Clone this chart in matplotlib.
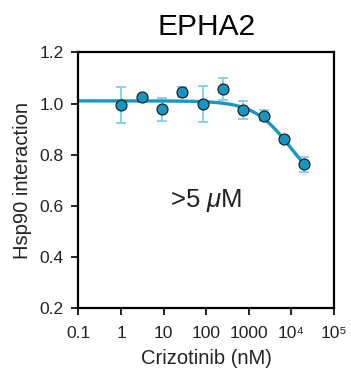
import numpy as np
import matplotlib
matplotlib.use("Agg")
import matplotlib.pyplot as plt
from matplotlib.ticker import FixedLocator, FixedFormatter, NullLocator

plt.rcParams["font.family"] = ["Liberation Sans", "DejaVu Sans"]
plt.rcParams["mathtext.fontset"] = "custom"
plt.rcParams["mathtext.rm"] = "Liberation Sans"
plt.rcParams["mathtext.it"] = "Liberation Sans:italic"
plt.rcParams.update({
    "xtick.labelsize": 12.5, "ytick.labelsize": 12.5,
    "xtick.major.size": 5, "ytick.major.size": 5,
    "xtick.major.width": 1.4, "ytick.major.width": 1.4,
    "xtick.major.pad": 7.5, "ytick.major.pad": 5.8,
    "xtick.color": "#222222", "ytick.color": "#222222",
    "axes.linewidth": 1.6,
})

# ─── data ─────────────────────────────────────────────────────────────
conc_nM = [1.02, 3.05, 9.14, 27.4, 82.3, 247, 741, 2222, 6667, 20000]
hsp90 = [0.995, 1.025, 0.979, 1.046, 1.000, 1.057, 0.975, 0.953, 0.861, 0.764]
err = [0.070, 0.008, 0.045, 0.019, 0.070, 0.043, 0.036, 0.021, 0.008, 0.029]

# 4PL fit parameters
TOP, BOTTOM, IC50, HILL = 1.011, 0.646, 9556.0, 1.0

xticks = [0.1, 1, 10, 100, 1000, 1e4, 1e5]
xticklabels = ["0.1", "1", "10", "100", "1000", "10\u2074", "10\u2075"]
yticks = [0.2, 0.4, 0.6, 0.8, 1.0, 1.2]

LINE_C = "#1796c4"
ERR_C = "#86cde6"
TXT_C = "#222222"

fig = plt.figure(figsize=(3.51, 3.68), dpi=100)
ax = fig.add_axes([0.2236, 0.1617, 0.728, 0.6957])

xs = np.logspace(-1, np.log10(conc_nM[-1]), 300)
fit = BOTTOM + (TOP - BOTTOM) / (1 + (xs / IC50) ** HILL)
ax.plot(xs, fit, color=LINE_C, lw=2.4, zorder=2)

ax.errorbar(conc_nM, hsp90, yerr=err, fmt="none", ecolor=ERR_C,
            elinewidth=1.3, capsize=3.6, capthick=1.3, zorder=1)
ax.scatter(conc_nM, hsp90, s=62, color=LINE_C, edgecolor=TXT_C,
           linewidth=0.9, zorder=3)

ax.text(100, 0.62, r">5 $\mu$M", fontsize=18.5, ha="center", va="center",
        color=TXT_C)

ax.set_xscale("log")
ax.set_xlim(0.1, 1e5)
ax.set_ylim(0.2, 1.2)
ax.xaxis.set_major_locator(FixedLocator(xticks))
ax.xaxis.set_major_formatter(FixedFormatter(xticklabels))
ax.xaxis.set_minor_locator(NullLocator())
ax.set_yticks(yticks)
ax.set_yticklabels([f"{v:.1f}" for v in yticks])

ax.set_xlabel("Crizotinib (nM)", fontsize=14.5, labelpad=6, color=TXT_C)
ax.set_ylabel("Hsp90 interaction", fontsize=14.5, labelpad=5.5, color=TXT_C)
ax.set_title("EPHA2", fontsize=21.5, pad=12.8)

fig.savefig("out.png", dpi=100)
